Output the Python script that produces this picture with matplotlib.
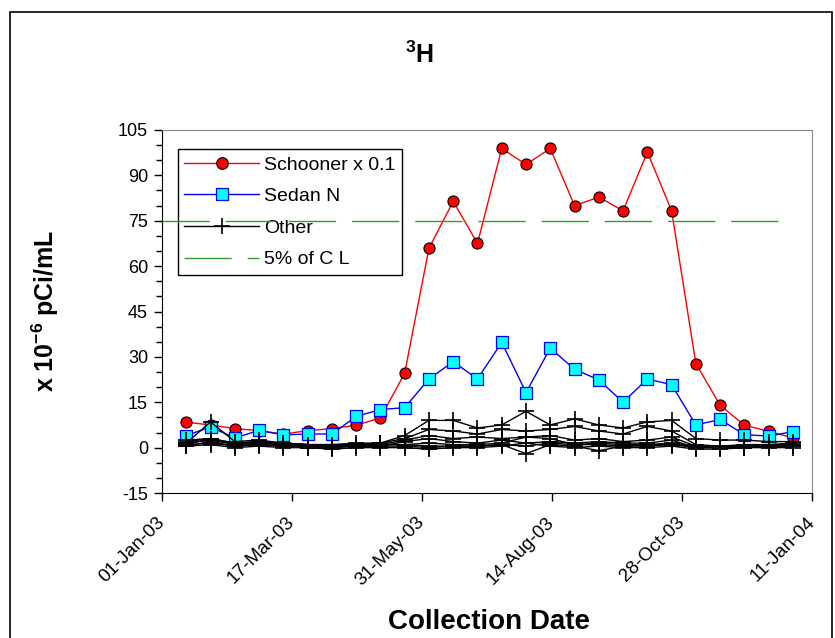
import matplotlib
matplotlib.use("Agg")
import matplotlib.pyplot as plt
import matplotlib.transforms as mtransforms
from matplotlib.ticker import MultipleLocator
from matplotlib.patches import Rectangle
import numpy as np

plt.rcParams['font.family'] = ['Liberation Sans', 'DejaVu Sans']
plt.rcParams['mathtext.fontset'] = 'custom'
plt.rcParams['mathtext.rm'] = 'Liberation Sans'
plt.rcParams['mathtext.bf'] = 'Liberation Sans:bold'
plt.rcParams['axes.unicode_minus'] = False

# ---- data ----
dates = ['2003-01-15', '2003-01-29', '2003-02-12', '2003-02-26', '2003-03-12',
         '2003-03-26', '2003-04-09', '2003-04-23', '2003-05-07', '2003-05-21',
         '2003-06-04', '2003-06-18', '2003-07-02', '2003-07-16', '2003-07-30',
         '2003-08-13', '2003-08-27', '2003-09-10', '2003-09-24', '2003-10-08',
         '2003-10-22', '2003-11-05', '2003-11-19', '2003-12-03', '2003-12-17',
         '2003-12-31']

schooner = [8.4, 7.5, 6.3, 5.6, 4.5, 5.6, 6.3, 7.4, 9.8, 24.6, 65.9, 81.4, 67.5,
            98.9, 93.6, 98.9, 80.0, 82.8, 78.3, 97.7, 78.3, 27.8, 14.0, 7.4, 5.4, 3.2]

sedan_n = [4.0, 6.8, 3.2, 5.7, 4.2, 4.5, 4.5, 10.3, 12.6, 13.2, 22.7, 28.4, 22.7,
           34.8, 18.2, 32.9, 25.9, 22.4, 15.0, 22.7, 20.8, 7.5, 9.3, 4.3, 3.8, 5.3]

other = [
    [2.0, 3.0, 1.5, 2.0, 1.5, 1.0, 1.0, 1.5, 1.5, 4.0, 9.0, 9.0, 6.5, 7.5, 12.0, 7.5, 9.5, 7.5, 6.5, 8.5, 9.0, 3.0, 2.5, 2.5, 2.0, 2.0],
    [1.5, 8.5, 2.0, 2.5, 1.5, 1.0, 0.5, 1.0, 1.5, 3.0, 6.0, 5.5, 4.5, 6.0, 5.5, 6.0, 7.0, 5.5, 4.5, 7.0, 5.5, 1.0, 0.5, 1.0, 1.0, 1.5],
    [1.0, 3.0, 1.0, 1.5, 1.0, 0.5, 0.5, 0.5, 1.0, 2.5, 4.0, 3.0, 3.5, 3.0, 3.5, 4.0, 2.5, 3.0, 2.0, 2.5, 3.5, 0.5, 0.0, 0.5, 0.5, 1.0],
    [0.5, 2.0, 0.5, 1.0, 0.5, 0.0, 0.0, 0.5, 0.5, 2.0, 3.0, 2.0, 1.5, 2.5, 1.5, 2.0, 1.5, 2.0, 1.5, 1.5, 2.5, 0.0, 0.0, 0.0, 0.5, 0.5],
    [1.5, 2.5, 1.0, 1.5, 1.0, 1.0, 0.5, 1.0, 1.0, 1.0, 1.5, 1.0, 1.0, 1.5, 3.5, 3.0, 1.0, 1.5, 1.0, 1.0, 1.5, 0.5, 0.5, 0.5, 1.0, 1.0],
    [1.0, 1.5, 0.5, 1.0, 0.5, 0.5, 0.0, 0.5, 0.5, 0.5, 0.0, 0.5, 0.5, 1.0, -2.0, 1.0, 0.5, -1.0, 0.5, 0.5, 1.0, 0.0, 0.0, 0.0, 0.5, 0.5],
    [2.5, 3.0, 1.5, 2.0, 1.5, 1.0, 1.0, 1.0, 1.0, 1.0, 0.5, 0.5, 0.5, 1.0, 0.5, 1.5, 1.0, 1.0, 0.5, 1.0, 1.0, 0.5, 0.0, 0.5, 0.5, 0.5],
    [0.5, 1.0, 0.0, 0.5, 0.0, 0.0, -0.5, 0.0, 0.0, 0.0, -0.5, 0.0, 0.0, 0.5, 1.5, 0.5, 0.0, 0.5, 0.0, 0.0, 0.5, -0.5, -0.5, 0.0, 0.0, 0.0],
]

cl_dates = ['2003-01-01', '2003-12-31']
cl_values = [75, 75]

xtick_dates = ['2003-01-01', '2003-03-17', '2003-05-31', '2003-08-14', '2003-10-28', '2004-01-11']
xtick_labels = ['01-Jan-03', '17-Mar-03', '31-May-03', '14-Aug-03', '28-Oct-03', '11-Jan-04']

# ---- plot ----
x = np.array(dates, dtype='datetime64[D]')
xc = np.array(cl_dates, dtype='datetime64[D]')
xt = np.array(xtick_dates, dtype='datetime64[D]')

fig = plt.figure(figsize=(8.35, 6.38), dpi=100)
ax = fig.add_axes([162/835, 1 - 493/638, (812 - 162)/835, (493 - 130)/638])

ax.plot(x, schooner, color='red', lw=1.0, marker='o', ms=8,
        mfc='red', mec='black', mew=0.8, label='Schooner x 0.1', zorder=3)
ax.plot(x, sedan_n, color='blue', lw=1.0, marker='s', ms=8,
        mfc='cyan', mec='blue', mew=0.9, label='Sedan N', zorder=4)
for i, s in enumerate(other):
    ax.plot(x, s, color='black', lw=1.0, marker='+', ms=11, mew=1.2,
            label='Other' if i == 0 else None, zorder=5)
ax.plot(xc, cl_values, color='#339933', lw=1.0, dashes=(34, 11.5),
        label='5% of C L', zorder=6)

ax.set_ylim(-15, 105)
ax.yaxis.set_major_locator(MultipleLocator(15))
ax.yaxis.set_minor_locator(MultipleLocator(5))
ax.set_xlim(xt[0], xt[-1])
ax.set_xticks(xt)
ax.set_xticklabels(xtick_labels, rotation=45, ha='right', va='top',
                   rotation_mode='anchor')
ax.tick_params(axis='y', which='major', labelsize=13, direction='out',
               length=6, width=1, pad=4)
ax.tick_params(axis='y', which='minor', direction='out', length=4, width=1)
ax.tick_params(axis='x', which='major', labelsize=13.5, direction='out',
               length=6, width=1, pad=9)
offset = mtransforms.ScaledTranslation(-6/100, 0, fig.dpi_scale_trans)
for lab in ax.get_xticklabels():
    lab.set_transform(lab.get_transform() + offset)
for sp in ['top', 'right']:
    ax.spines[sp].set_color('#888888')
for sp in ['left', 'bottom']:
    ax.spines[sp].set_color('black')

leg = ax.legend(loc='upper left', bbox_to_anchor=(0.024, 0.947), fontsize=14,
                frameon=True, fancybox=False, edgecolor='black',
                handlelength=3.85, labelspacing=0.72, borderpad=0.35,
                handletextpad=0.25, borderaxespad=0, markerscale=1.05)
leg.get_frame().set_linewidth(1.0)
leg.get_frame().set_alpha(1)

fig.text(0.503, 1 - 55/638, '$^{\\mathbf{3}}$H', ha='center', va='center',
         fontsize=18, fontweight='bold')
fig.text(0.054, 1 - 311/638, 'x 10$^{\\mathbf{-6}}$ pCi/mL', ha='center',
         va='center', rotation=90, fontsize=18, fontweight='bold')
fig.text(489/835, 1 - 622/638, 'Collection Date', ha='center', va='center',
         fontsize=20, fontweight='bold')

fig.patches.append(Rectangle((10/835, -0.05), (832 - 10)/835, 1 - 12/638 + 0.05,
                             transform=fig.transFigure, fill=False,
                             edgecolor='black', lw=1.2))

fig.savefig('out.png', dpi=100)
